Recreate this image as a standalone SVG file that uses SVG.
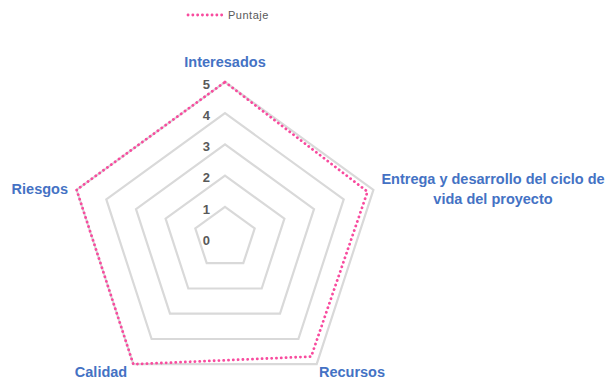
<svg xmlns="http://www.w3.org/2000/svg" width="608" height="383" viewBox="0 0 608 383">
<style>
.grid{fill:none;stroke:#d9d9d9;stroke-width:2.2;stroke-linejoin:miter}
.data{fill:none;stroke:#f84b9e;stroke-width:2.8;stroke-dasharray:0.1 4.7;stroke-linecap:round;stroke-linejoin:round}
.cat{font-family:"Liberation Sans",Arial,sans-serif;font-weight:bold;font-size:14.5px;fill:#4472c4}
.num{font-family:"Liberation Sans",Arial,sans-serif;font-weight:bold;font-size:13px;fill:#595959;text-anchor:end}
.leg{font-family:"Liberation Sans",Arial,sans-serif;font-size:11px;fill:#595959;letter-spacing:0.5px}
</style>
<rect width="608" height="383" fill="#ffffff"/>
<g id="grid">
<polygon class="grid" points="225,82 373.4,189.8 316.7,364.2 133.3,364.2 76.6,189.8"/>
<polygon class="grid" points="225,113.2 343.7,199.4 298.4,339 151.6,339 106.3,199.4"/>
<polygon class="grid" points="225,144.4 314,209.1 280,313.7 170,313.7 136,209.1"/>
<polygon class="grid" points="225,175.6 284.4,218.7 261.7,288.5 188.3,288.5 165.6,218.7"/>
<polygon class="grid" points="225,206.8 254.7,228.4 243.3,263.2 206.7,263.2 195.3,228.4"/>
</g>
<g id="connectors">
<polygon class="data" points="225,82 367.5,191.7 311.2,356.6 133.3,364.2 76.6,189.8"/>
</g>
<g id="axis-labels">
<text class="num" x="210" y="89">5</text>
<text class="num" x="210" y="120">4</text>
<text class="num" x="210" y="151">3</text>
<text class="num" x="210" y="182">2</text>
<text class="num" x="210" y="214">1</text>
<text class="num" x="210" y="245">0</text>
</g>
<g id="node-interesados"><text class="cat" x="225" y="67" text-anchor="middle">Interesados</text></g>
<g id="node-entrega"><text class="cat" x="493" y="184" text-anchor="middle">Entrega y desarrollo del ciclo de</text><text class="cat" x="493" y="204" text-anchor="middle">vida del proyecto</text></g>
<g id="node-recursos"><text class="cat" x="352" y="377" text-anchor="middle">Recursos</text></g>
<g id="node-calidad"><text class="cat" x="101" y="377" text-anchor="middle">Calidad</text></g>
<g id="node-riesgos"><text class="cat" x="68" y="194" text-anchor="end">Riesgos</text></g>
<g id="legend">
<line x1="188" y1="15" x2="222" y2="15" stroke="#f84b9e" stroke-width="2.8" stroke-dasharray="0.1 4.7" stroke-linecap="round"/>
<text class="leg" x="228" y="19">Puntaje</text>
</g>
</svg>
